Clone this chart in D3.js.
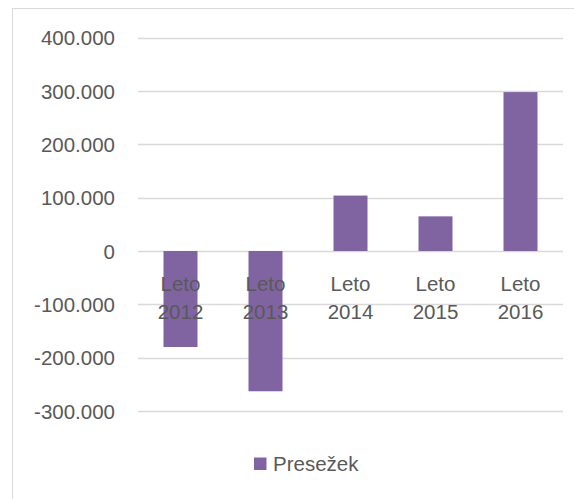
<!DOCTYPE html>
<html>
<head>
<meta charset="utf-8">
<script src="https://cdn.jsdelivr.net/npm/d3@7"></script>
<style>
  html, body { margin: 0; padding: 0; background: #fff; }
  svg { display: block; }
</style>
</head>
<body>
<svg></svg>
<script>
const width = 574;
const height = 499;

// data
const years = ["Leto 2012", "Leto 2013", "Leto 2014", "Leto 2015", "Leto 2016"];
const presezek = [-180000, -263000, 104000, 65000, 298000];
const yTicks = [-300000, -200000, -100000, 0, 100000, 200000, 300000, 400000];
const seriesName = "Presežek";

const barColor = "#8064a2";
const textColor = "#595959";
const gridColor = "#d9d9d9";
const font = "'Liberation Sans', Arial, sans-serif";

const plot = { left: 138, right: 563, top: 37.7, bottom: 411 };

const locale = d3.formatLocale({ decimal: ",", thousands: ".", grouping: [3], currency: ["", " €"], minus: "-" });
const fmt = locale.format(",.0f");

const svg = d3.select("svg")
    .attr("width", width)
    .attr("height", height);

// chart frame (only top and left edges fall inside the picture)
svg.append("rect")
    .attr("x", 12.5)
    .attr("y", 8.5)
    .attr("width", width)
    .attr("height", height)
    .attr("fill", "#fff")
    .attr("stroke", gridColor)
    .attr("stroke-width", 1);

const x = d3.scaleBand()
    .domain(years)
    .range([plot.left, plot.right])
    .paddingInner(0.6)
    .paddingOuter(0.3);

const y = d3.scaleLinear()
    .domain([-300000, 400000])
    .range([plot.bottom, plot.top]);

// gridlines
svg.append("g")
    .selectAll("line")
    .data(yTicks)
    .enter()
    .append("line")
    .attr("x1", plot.left)
    .attr("x2", plot.right)
    .attr("y1", d => Math.round(y(d)) + 0.5)
    .attr("y2", d => Math.round(y(d)) + 0.5)
    .attr("stroke", gridColor)
    .attr("stroke-width", 1.3);

// y axis labels
const yAxis = d3.axisLeft(y).tickValues(yTicks).tickFormat(fmt).tickSize(0).tickPadding(0);
const yg = svg.append("g")
    .attr("transform", "translate(115,0)")
    .call(yAxis);
yg.select(".domain").remove();
yg.selectAll("text")
    .attr("fill", textColor)
    .attr("font-family", font)
    .attr("font-size", "20.5px")
    .attr("dy", "0.35em");

// bars
svg.append("g")
    .selectAll("rect")
    .data(presezek)
    .enter()
    .append("rect")
    .attr("x", (d, i) => x(years[i]))
    .attr("width", x.bandwidth())
    .attr("y", d => y(Math.max(0, d)))
    .attr("height", d => Math.abs(y(d) - y(0)))
    .attr("fill", barColor);

// category labels, two lines, drawn over the bars
const cats = svg.append("g")
    .selectAll("text")
    .data(years)
    .enter()
    .append("text")
    .attr("x", d => x(d) + x.bandwidth() / 2)
    .attr("y", 290.5)
    .attr("text-anchor", "middle")
    .attr("fill", textColor)
    .attr("font-family", font)
    .attr("font-size", "20.5px");
cats.each(function(d) {
  const parts = d.split(" ");
  const t = d3.select(this);
  t.append("tspan").attr("x", x(d) + x.bandwidth() / 2).text(parts[0]);
  t.append("tspan").attr("x", x(d) + x.bandwidth() / 2).attr("dy", 28.3).text(parts[1]);
});

// legend
svg.append("rect")
    .attr("x", 254)
    .attr("y", 457.5)
    .attr("width", 12.5)
    .attr("height", 12.5)
    .attr("fill", barColor);

svg.append("text")
    .attr("x", 273)
    .attr("y", 463.7)
    .attr("dy", "0.35em")
    .attr("fill", textColor)
    .attr("font-family", font)
    .attr("font-size", "20.5px")
    .text(seriesName);
</script>
</body>
</html>
